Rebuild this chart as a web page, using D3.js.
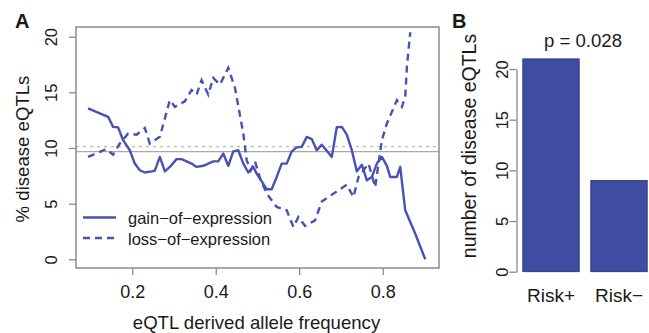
<!DOCTYPE html>
<html>
<head>
<meta charset="utf-8">
<script src="https://cdn.jsdelivr.net/npm/d3@7"></script>
<style>
  html, body { margin: 0; padding: 0; background: #fff; }
  svg { display: block; font-family: "Liberation Sans", Arial, sans-serif; }
</style>
</head>
<body>
<svg id="chart" width="649" height="333"></svg>
<script>
// ---- data ----
const gainFreq = [0.094, 0.142, 0.154, 0.166, 0.178, 0.194, 0.206, 0.218, 0.23, 0.246, 0.254, 0.266, 0.278, 0.29, 0.306, 0.318, 0.33, 0.342, 0.354, 0.37, 0.382, 0.394, 0.406, 0.418, 0.43, 0.442, 0.454, 0.466, 0.478, 0.49, 0.498, 0.51, 0.522, 0.534, 0.546, 0.558, 0.57, 0.582, 0.594, 0.606, 0.618, 0.63, 0.642, 0.654, 0.666, 0.678, 0.69, 0.702, 0.714, 0.726, 0.738, 0.75, 0.762, 0.774, 0.786, 0.798, 0.81, 0.818, 0.834, 0.842, 0.854, 0.878, 0.902];
const gainPct = [13.56, 12.8, 11.9, 11.85, 10.7, 9.8, 8.6, 8.0, 7.8, 7.9, 7.96, 9.2, 7.9, 8.3, 9.0, 9.0, 8.8, 8.6, 8.3, 8.4, 8.6, 8.8, 8.8, 9.5, 8.4, 9.7, 9.8, 8.6, 7.8, 8.3, 7.7, 7.0, 6.3, 6.3, 7.4, 8.6, 8.6, 9.7, 10.06, 10.1, 11.0, 10.8, 9.8, 10.3, 9.76, 9.2, 11.86, 11.9, 11.2, 9.8, 7.9, 8.5, 7.1, 7.4, 8.6, 9.2, 8.4, 7.4, 7.4, 8.3, 4.4, 2.3, 0];

const lossFreq = [0.094, 0.138, 0.154, 0.17, 0.19, 0.21, 0.23, 0.242, 0.266, 0.29, 0.302, 0.326, 0.342, 0.354, 0.366, 0.382, 0.394, 0.41, 0.43, 0.446, 0.466, 0.474, 0.484, 0.494, 0.506, 0.522, 0.546, 0.57, 0.586, 0.598, 0.614, 0.638, 0.654, 0.67, 0.714, 0.73, 0.742, 0.766, 0.782, 0.798, 0.81, 0.834, 0.846, 0.854, 0.858, 0.866];
const lossPct = [9.2, 9.9, 9.4, 10.4, 11.3, 11.2, 11.8, 10.4, 11.0, 14.3, 13.7, 14.2, 15.2, 14.8, 16.1, 14.8, 16.3, 15.7, 17.2, 15.4, 11.3, 8.9, 8.0, 8.8, 7.3, 5.9, 4.7, 4.4, 2.9, 3.8, 3.0, 3.5, 5.2, 5.6, 6.7, 5.6, 7.4, 8.6, 6.5, 10.7, 12.2, 14.3, 13.7, 14.6, 17.3, 20.4];

const gainBaseline = 9.68;
const lossBaseline = 10.13;

const freqTicks = [0.2, 0.4, 0.6, 0.8];
const pctTicks = [0, 5, 10, 15, 20];

const riskCats = ["Risk+", "Risk\u2212"];
const riskCounts = [21, 9];
const countTicks = [0, 5, 10, 15, 20];
const pLabel = "p = 0.028";

// ---- styles ----
const LINE_COLOR = "#4652b4";
const BAR_COLOR = "#3e4ca1";
const BOX_COLOR = "#8a8a8a";
const TEXT_COLOR = "#1a1a1a";
const TICK_FONT = "18px";
const YTICK_FONT = "16.5px";
const LABEL_FONT = "18.6px";
const LEGEND_FONT = "16.5px";

const svg = d3.select("#chart");

const toPoints = (xs, ys) => xs.map((x, i) => ({ x, y: ys[i] }));

// ============= Panel A =============
const boxA = { left: 76, top: 27, right: 439, bottom: 268 };
const xScale = d3.scaleLinear().domain([0.2, 0.8]).range([132.3, 382.7]);
const yScale = d3.scaleLinear().domain([0, 20]).range([259.3, 36.7]);

const gA = svg.append("g");

// reference lines
gA.append("line")
  .attr("x1", boxA.left).attr("x2", boxA.right)
  .attr("y1", yScale(lossBaseline)).attr("y2", yScale(lossBaseline))
  .attr("stroke", "#b8b8b8").attr("stroke-width", 1.3).attr("stroke-dasharray", "3,4");
gA.append("line")
  .attr("x1", boxA.left).attr("x2", boxA.right)
  .attr("y1", yScale(gainBaseline)).attr("y2", yScale(gainBaseline))
  .attr("stroke", "#a8a8a8").attr("stroke-width", 1.3);

const line = d3.line().x((d) => xScale(d.x)).y((d) => yScale(d.y));

gA.append("path")
  .datum(toPoints(lossFreq, lossPct))
  .attr("d", line)
  .attr("fill", "none")
  .attr("stroke", LINE_COLOR)
  .attr("stroke-width", 2.4)
  .attr("stroke-dasharray", "7,5");

gA.append("path")
  .datum(toPoints(gainFreq, gainPct))
  .attr("d", line)
  .attr("fill", "none")
  .attr("stroke", LINE_COLOR)
  .attr("stroke-width", 2.4)
  .attr("stroke-linejoin", "round");

// box
gA.append("rect")
  .attr("x", boxA.left).attr("y", boxA.top)
  .attr("width", boxA.right - boxA.left).attr("height", boxA.bottom - boxA.top)
  .attr("fill", "none").attr("stroke", BOX_COLOR).attr("stroke-width", 1.5);

// x axis
const xAxis = gA.append("g")
  .attr("transform", `translate(0,${boxA.bottom})`)
  .call(d3.axisBottom(xScale).tickValues(freqTicks).tickSize(7).tickPadding(0).tickFormat(d3.format(".1f")));
xAxis.select(".domain").remove();
xAxis.selectAll(".tick text").attr("y", 30).attr("dy", null).style("font-size", TICK_FONT);

// y axis
const yAxis = gA.append("g")
  .attr("transform", `translate(${boxA.left},0)`)
  .call(d3.axisLeft(yScale).tickValues(pctTicks).tickSize(7).tickPadding(0).tickFormat(d3.format("d")));
yAxis.select(".domain").remove();
yAxis.selectAll(".tick text")
  .attr("x", -19).attr("dy", null).attr("y", 0)
  .attr("transform", "rotate(-90,-19,0)")
  .attr("text-anchor", "middle")
  .style("font-size", YTICK_FONT);

[xAxis, yAxis].forEach((axis) => {
  axis.selectAll("line").attr("stroke", BOX_COLOR).attr("stroke-width", 1.3);
  axis.selectAll("text").style("fill", TEXT_COLOR).style("font-family", null);
});

gA.append("text")
  .attr("x", 256.5)
  .attr("y", 329)
  .attr("text-anchor", "middle")
  .style("font-size", LABEL_FONT).style("fill", TEXT_COLOR)
  .text("eQTL derived allele frequency");

gA.append("text")
  .attr("transform", "translate(29,149) rotate(-90)")
  .attr("text-anchor", "middle")
  .style("font-size", LABEL_FONT).style("fill", TEXT_COLOR)
  .text("% disease eQTLs");

// legend
const legendItems = [
  { label: "gain\u2212of\u2212expression", dash: null, y: 217.5 },
  { label: "loss\u2212of\u2212expression", dash: "7,5", y: 238 },
];
legendItems.forEach((item) => {
  gA.append("line")
    .attr("x1", 83).attr("x2", 116)
    .attr("y1", item.y).attr("y2", item.y)
    .attr("stroke", LINE_COLOR).attr("stroke-width", 2.4)
    .attr("stroke-dasharray", item.dash);
  gA.append("text")
    .attr("x", 128).attr("y", item.y + 6.5)
    .style("font-size", LEGEND_FONT).style("fill", TEXT_COLOR)
    .text(item.label);
});

gA.append("text")
  .attr("x", 15).attr("y", 28)
  .style("font-size", "20px").style("font-weight", "bold").style("fill", TEXT_COLOR)
  .text("A");

// ============= Panel B =============
const gB = svg.append("g");
const bandScale = d3.scaleBand().domain(riskCats).range([517, 653]).paddingInner(0.17).paddingOuter(0.085);
const countScale = d3.scaleLinear().domain([0, 20]).range([271.7, 69]);

gB.selectAll(".bar")
  .data(riskCats)
  .enter()
  .append("rect")
  .attr("class", "bar")
  .attr("x", (d) => bandScale(d))
  .attr("width", bandScale.bandwidth())
  .attr("y", (d, i) => countScale(riskCounts[i]))
  .attr("height", (d, i) => countScale(0) - countScale(riskCounts[i]))
  .attr("fill", BAR_COLOR)
  .attr("stroke", "#26306e")
  .attr("stroke-width", 0.8);

const cAxis = gB.append("g")
  .attr("transform", "translate(516.5,0)")
  .call(d3.axisLeft(countScale).tickValues(countTicks).tickSize(7).tickSizeOuter(0).tickFormat(d3.format("d")));
cAxis.select(".domain").attr("stroke", BOX_COLOR).attr("stroke-width", 1.3);
cAxis.selectAll("line").attr("stroke", BOX_COLOR).attr("stroke-width", 1.3);
cAxis.selectAll(".tick text")
  .attr("x", -9).attr("dy", null).attr("y", 0)
  .attr("transform", "rotate(-90,-9,0)")
  .attr("text-anchor", "middle")
  .style("font-size", YTICK_FONT).style("fill", TEXT_COLOR).style("font-family", null);

gB.selectAll(".cat")
  .data(riskCats)
  .enter()
  .append("text")
  .attr("class", "cat")
  .attr("x", (d) => bandScale(d) + bandScale.bandwidth() / 2)
  .attr("y", 302)
  .attr("text-anchor", "middle")
  .style("font-size", "19px").style("fill", TEXT_COLOR)
  .text((d) => d);

gB.append("text")
  .attr("transform", "translate(476,146) rotate(-90)")
  .attr("text-anchor", "middle")
  .style("font-size", "19.5px").style("fill", TEXT_COLOR)
  .text("number of disease eQTLs");

gB.append("text")
  .attr("x", 583).attr("y", 47)
  .attr("text-anchor", "middle")
  .style("font-size", LABEL_FONT).style("fill", TEXT_COLOR)
  .text(pLabel);

gB.append("text")
  .attr("x", 452).attr("y", 28)
  .style("font-size", "20px").style("font-weight", "bold").style("fill", TEXT_COLOR)
  .text("B");
</script>
</body>
</html>
